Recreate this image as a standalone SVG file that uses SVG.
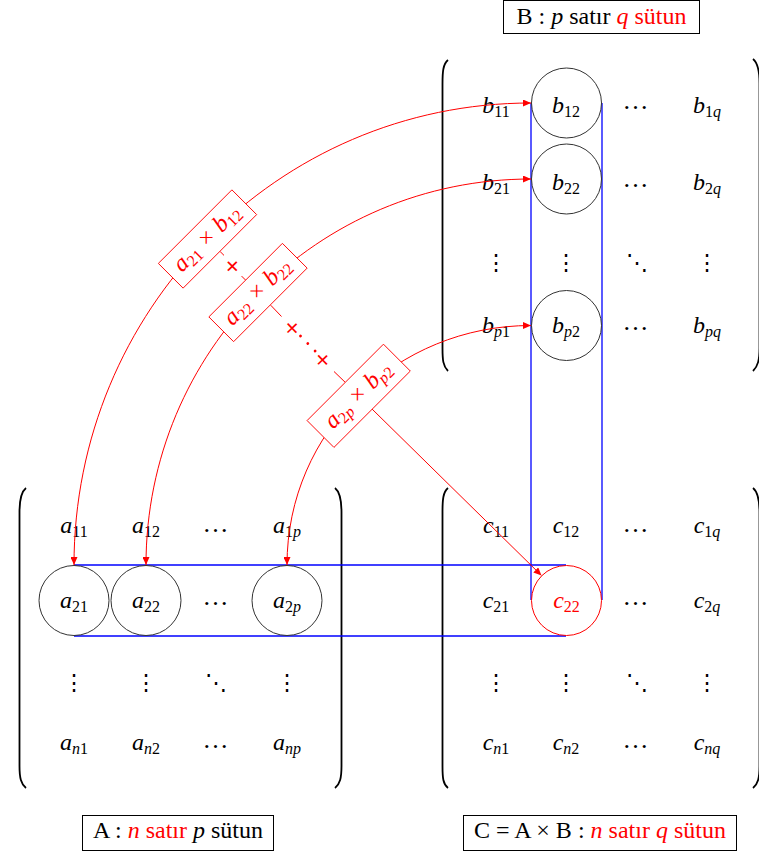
<svg xmlns="http://www.w3.org/2000/svg" width="759" height="856" viewBox="0 0 759 856">
<defs>
<style>
.m{font-family:"Liberation Serif","DejaVu Serif",serif;font-size:24px;font-style:italic;fill:#000;text-anchor:middle}
.s{font-size:16px;font-style:normal}
.si{font-size:16px;font-style:italic}
.red{fill:#ff0000}
.t{font-family:"Liberation Serif","DejaVu Serif",serif;font-size:24px;fill:#000;text-anchor:middle}
.e{font-family:"Liberation Serif",serif;font-size:26px;fill:#000;text-anchor:middle;letter-spacing:1px}
.v{font-family:"DejaVu Serif",serif;font-size:22px;fill:#000;text-anchor:middle}
.cir{fill:none;stroke:#333;stroke-width:1}
.blue{fill:none;stroke:#0000ff;stroke-width:1.3}
.br{fill:none;stroke:#000;stroke-width:1.8}
.arr{fill:none;stroke:#ff0000;stroke-width:1}
.box{fill:#fff;stroke:#ff0000;stroke-width:0.9}
.tbox{fill:#fff;stroke:#000;stroke-width:1}
.plus{font-family:"DejaVu Sans",sans-serif;font-size:20px;fill:#ff0000;text-anchor:middle}
</style>
<marker id="ah" viewBox="0 0 8 7" markerUnits="userSpaceOnUse" markerWidth="8" markerHeight="7" refX="8" refY="3.5" orient="auto-start-reverse">
<path d="M0,0 L8,3.5 L0,7 z" fill="#ff0000"/>
</marker>
</defs>

<!-- brackets -->
<g id="brackets">
<path class="br" d="M26,488 C21,492 19.5,500 19.5,512 L19.5,766 C19.5,778 21,784 26,788"/>
<path class="br" d="M335,488 C340,492 341.5,500 341.5,512 L341.5,766 C341.5,778 340,784 335,788"/>
<path class="br" d="M448,60 C443,64 442.5,72 442.5,84 L442.5,348 C442.5,360 443,366 448,371"/>
<path class="br" d="M753,59 C758,63 759.5,71 759.5,83 L759.5,348 C759.5,360 758,366 753,371"/>
<path class="br" d="M448,488 C443,492 442.5,500 442.5,512 L442.5,766 C442.5,778 443,784 448,788"/>
<path class="br" d="M753,488 C758,492 759.5,500 759.5,512 L759.5,766 C759.5,778 758,784 753,788"/>
</g>

<!-- blue guides -->
<g id="guides">
<line class="blue" x1="531" y1="103" x2="531" y2="600"/>
<line class="blue" x1="602" y1="103" x2="602" y2="600"/>
<line class="blue" x1="74" y1="565" x2="566" y2="565"/>
<line class="blue" x1="74" y1="636" x2="566" y2="636"/>
</g>

<!-- matrix B -->
<g id="b11"><text class="m" x="496" y="113">b<tspan class="s" dy="4">11</tspan></text></g>
<g id="b12"><circle class="cir" cx="566.5" cy="103" r="35"/><text class="m" x="566" y="113">b<tspan class="s" dy="4">12</tspan></text></g>
<g id="b1d"><text class="e" x="636" y="109">…</text></g>
<g id="b1q"><text class="m" x="707" y="113">b<tspan class="s" dy="4">1</tspan><tspan class="si">q</tspan></text></g>
<g id="b21"><text class="m" x="496" y="190">b<tspan class="s" dy="4">21</tspan></text></g>
<g id="b22"><circle class="cir" cx="566.5" cy="179" r="35"/><text class="m" x="566" y="190">b<tspan class="s" dy="4">22</tspan></text></g>
<g id="b2d"><text class="e" x="636" y="187">…</text></g>
<g id="b2q"><text class="m" x="707" y="190">b<tspan class="s" dy="4">2</tspan><tspan class="si">q</tspan></text></g>
<g id="b31"><text class="v" x="496" y="270">⋮</text></g>
<g id="b32"><text class="v" x="566" y="270">⋮</text></g>
<g id="b33"><text class="v" x="637" y="270">⋱</text></g>
<g id="b34"><text class="v" x="707" y="270">⋮</text></g>
<g id="bp1"><text class="m" x="496" y="333">b<tspan class="si" dy="4">p</tspan><tspan class="s">1</tspan></text></g>
<g id="bp2"><circle class="cir" cx="566.5" cy="325.5" r="35"/><text class="m" x="566" y="333">b<tspan class="si" dy="4">p</tspan><tspan class="s">2</tspan></text></g>
<g id="bpd"><text class="e" x="636" y="330">…</text></g>
<g id="bpq"><text class="m" x="707" y="333">b<tspan class="si" dy="4">pq</tspan></text></g>

<!-- matrix A -->
<g id="a11"><text class="m" x="74" y="533">a<tspan class="s" dy="4">11</tspan></text></g>
<g id="a12"><text class="m" x="146" y="533">a<tspan class="s" dy="4">12</tspan></text></g>
<g id="a1d"><text class="e" x="216" y="532">…</text></g>
<g id="a1p"><text class="m" x="287" y="533">a<tspan class="s" dy="4">1</tspan><tspan class="si">p</tspan></text></g>
<g id="a21"><circle class="cir" cx="74" cy="600.5" r="35"/><text class="m" x="74" y="608">a<tspan class="s" dy="4">21</tspan></text></g>
<g id="a22"><circle class="cir" cx="146" cy="600.5" r="35"/><text class="m" x="146" y="608">a<tspan class="s" dy="4">22</tspan></text></g>
<g id="a2d"><text class="e" x="216" y="605">…</text></g>
<g id="a2p"><circle class="cir" cx="287" cy="600.5" r="35"/><text class="m" x="287" y="608">a<tspan class="s" dy="4">2</tspan><tspan class="si">p</tspan></text></g>
<g id="a31"><text class="v" x="74" y="690">⋮</text></g>
<g id="a32"><text class="v" x="146" y="690">⋮</text></g>
<g id="a33"><text class="v" x="216" y="690">⋱</text></g>
<g id="a34"><text class="v" x="287" y="690">⋮</text></g>
<g id="an1"><text class="m" x="74" y="750">a<tspan class="si" dy="4">n</tspan><tspan class="s">1</tspan></text></g>
<g id="an2"><text class="m" x="146" y="750">a<tspan class="si" dy="4">n</tspan><tspan class="s">2</tspan></text></g>
<g id="and"><text class="e" x="216" y="748">…</text></g>
<g id="anp"><text class="m" x="287" y="750">a<tspan class="si" dy="4">np</tspan></text></g>

<!-- matrix C -->
<g id="c11"><text class="m" x="496" y="533">c<tspan class="s" dy="4">11</tspan></text></g>
<g id="c12"><text class="m" x="566" y="533">c<tspan class="s" dy="4">12</tspan></text></g>
<g id="c1d"><text class="e" x="636" y="532">…</text></g>
<g id="c1q"><text class="m" x="707" y="533">c<tspan class="s" dy="4">1</tspan><tspan class="si">q</tspan></text></g>
<g id="c21"><text class="m" x="496" y="608">c<tspan class="s" dy="4">21</tspan></text></g>
<g id="c22"><circle cx="566.5" cy="600.5" r="35" fill="none" stroke="#ff0000" stroke-width="1"/><text class="m red" x="566.5" y="608">c<tspan class="s" dy="4">22</tspan></text></g>
<g id="c2d"><text class="e" x="636" y="605">…</text></g>
<g id="c2q"><text class="m" x="707" y="608">c<tspan class="s" dy="4">2</tspan><tspan class="si">q</tspan></text></g>
<g id="c31"><text class="v" x="496" y="690">⋮</text></g>
<g id="c32"><text class="v" x="566" y="690">⋮</text></g>
<g id="c33"><text class="v" x="637" y="690">⋱</text></g>
<g id="c34"><text class="v" x="707" y="690">⋮</text></g>
<g id="cn1"><text class="m" x="496" y="750">c<tspan class="si" dy="4">n</tspan><tspan class="s">1</tspan></text></g>
<g id="cn2"><text class="m" x="566" y="750">c<tspan class="si" dy="4">n</tspan><tspan class="s">2</tspan></text></g>
<g id="cnd"><text class="e" x="636" y="748">…</text></g>
<g id="cnq"><text class="m" x="707" y="750">c<tspan class="si" dy="4">nq</tspan></text></g>

<!-- connectors -->
<g id="connectors">
<path class="arr" d="M74,565 C74,311 277,103 531,103" marker-start="url(#ah)" marker-end="url(#ah)"/>
<path class="arr" d="M146,565 C146,351.5 317.5,179 531,179" marker-start="url(#ah)" marker-end="url(#ah)"/>
<path class="arr" d="M287,565 C287,431 397,325.5 531,325.5" marker-start="url(#ah)" marker-end="url(#ah)"/>
<line class="arr" x1="372" y1="409" x2="541.5" y2="575.5" marker-end="url(#ah)"/>
<line class="arr" x1="220" y1="251.4" x2="224" y2="255.4"/>
<line class="arr" x1="241.6" y1="276.1" x2="245.6" y2="280.1"/>
<line class="arr" x1="270.7" y1="305.2" x2="281.5" y2="316.5"/>
<line class="arr" x1="334" y1="371.5" x2="345.3" y2="382.4"/>
</g>

<!-- product labels -->
<g id="p1" transform="translate(207.5,239) rotate(-45)">
<rect class="box" x="-52" y="-17.5" width="104" height="35"/>
<text class="m red" x="0" y="6">a<tspan class="s" dy="4">21</tspan><tspan dy="-4"> × </tspan>b<tspan class="s" dy="4">12</tspan></text>
</g>
<g id="plus1"><text class="plus" transform="translate(232.8,265.8) rotate(45)" y="7">+</text></g>
<g id="p2" transform="translate(258,292.5) rotate(-45)">
<rect class="box" x="-52" y="-17.5" width="104" height="35"/>
<text class="m red" x="0" y="6">a<tspan class="s" dy="4">22</tspan><tspan dy="-4"> × </tspan>b<tspan class="s" dy="4">22</tspan></text>
</g>
<g id="plus2" transform="translate(307.8,343.5) rotate(46)">
<text class="plus" x="-22" y="7">+</text>
<text class="plus" x="22" y="7">+</text>
<circle cx="-10.5" cy="0" r="1.4" fill="#ff0000"/>
<circle cx="0" cy="0" r="1.4" fill="#ff0000"/>
<circle cx="10.5" cy="0" r="1.4" fill="#ff0000"/>
</g>
<g id="p3" transform="translate(358.7,395.8) rotate(-45)">
<rect class="box" x="-54" y="-19" width="108" height="38"/>
<text class="m red" x="0" y="6">a<tspan class="s" dy="4">2</tspan><tspan class="si">p</tspan><tspan dy="-4"> × </tspan>b<tspan class="si" dy="4">p</tspan><tspan class="s">2</tspan></text>
</g>

<!-- titles -->
<g id="titleB">
<rect class="tbox" x="503.5" y="0.5" width="196" height="33"/>
<text class="t" x="601.5" y="24">B : <tspan font-style="italic">p</tspan> satır <tspan class="red"><tspan font-style="italic">q</tspan> sütun</tspan></text>
</g>
<g id="titleA">
<rect class="tbox" x="82.5" y="815.5" width="191" height="35"/>
<text class="t" x="178" y="838">A : <tspan class="red"><tspan font-style="italic">n</tspan> satır</tspan> <tspan font-style="italic">p</tspan> sütun</text>
</g>
<g id="titleC">
<rect class="tbox" x="463.5" y="815.5" width="273" height="35"/>
<text class="t" x="600" y="838">C = A × B : <tspan class="red"><tspan font-style="italic">n</tspan> satır <tspan font-style="italic">q</tspan> sütun</tspan></text>
</g>
</svg>
